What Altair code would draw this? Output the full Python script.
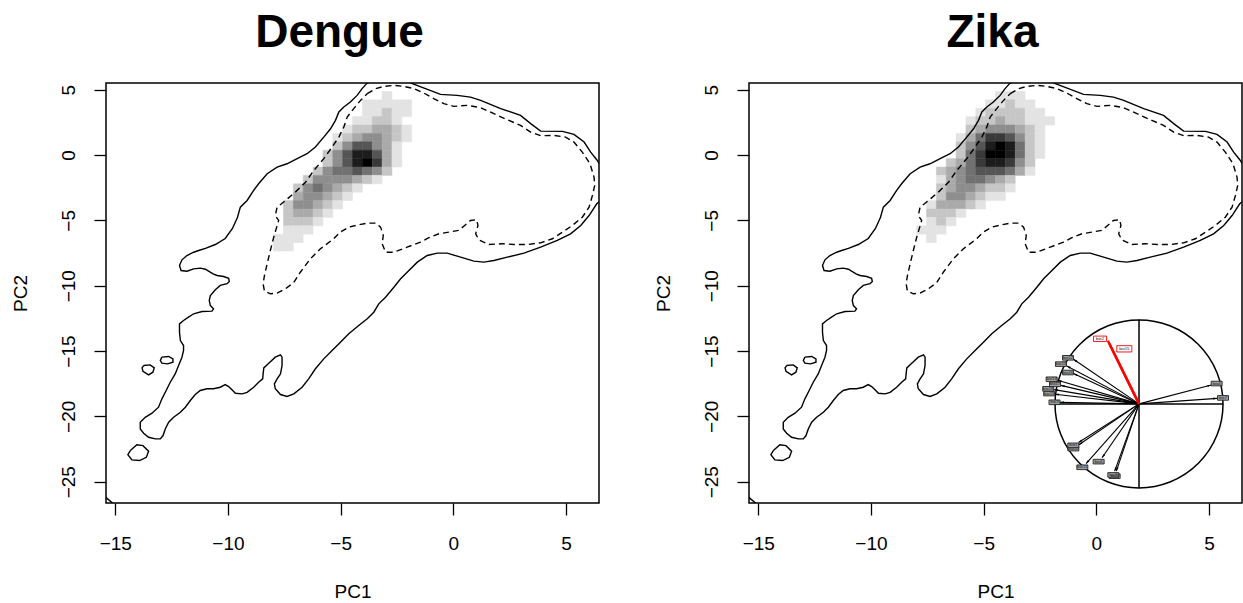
import math
import altair as alt
import pandas as pd

FONT = "Liberation Sans"

# Plot extents and axis ticks (PCA space)
X_DOMAIN = [-15.41, 6.46]
Y_DOMAIN = [-26.63, 5.51]
X_TICKS = [-15, -10, -5, 0, 5]
Y_TICKS = [5, 0, -5, -10, -15, -20, -25]
PANEL_W = 493
PANEL_H = 420

# Environmental background: outer density contour (solid)
OUTER_RING = [
    (-3.85, 5.46), (-3.23, 6.02), (-2.43, 6.02), (-1.82, 5.46), (-0.57, 4.64), (0.17, 4.56),
    (0.76, 4.43), (1.21, 4.18), (2.10, 3.55), (2.98, 3.03), (3.43, 2.40), (3.87, 1.83),
    (4.84, 1.81), (5.35, 1.58), (5.80, 0.99), (6.09, 0.22), (6.36, -0.36), (6.80, -1.56),
    (6.80, -3.09), (6.36, -3.73), (6.02, -4.63), (5.65, -5.39), (5.20, -6.03), (4.61, -6.54),
    (3.87, -7.05), (3.13, -7.51), (2.39, -7.82), (1.80, -8.07), (1.35, -8.20), (0.91, -8.12),
    (0.32, -7.82), (-0.27, -7.51), (-0.71, -7.51), (-1.16, -7.69), (-1.60, -8.20), (-2.05, -8.97),
    (-2.34, -9.47), (-2.64, -10.12), (-3.01, -10.88), (-3.31, -11.39), (-3.53, -12.03), (-3.82, -12.53),
    (-4.20, -13.05), (-4.64, -13.68), (-5.01, -14.33), (-5.38, -14.96), (-5.75, -15.60), (-6.12, -16.36),
    (-6.42, -17.13), (-6.71, -17.77), (-7.08, -18.28), (-7.38, -18.48), (-7.67, -18.33), (-7.90, -17.89),
    (-7.94, -17.51), (-7.82, -17.13), (-7.67, -16.75), (-7.60, -16.11), (-7.60, -15.47), (-7.67, -15.29),
    (-7.90, -15.47), (-8.19, -15.93), (-8.41, -16.29), (-8.44, -16.75), (-8.46, -17.13), (-8.64, -17.39),
    (-8.86, -17.77), (-9.15, -18.16), (-9.37, -18.28), (-9.67, -18.23), (-9.82, -17.97), (-9.97, -17.72),
    (-10.12, -17.57), (-10.34, -17.77), (-10.64, -17.89), (-10.93, -17.89), (-11.23, -18.02), (-11.45, -18.33),
    (-11.67, -18.79), (-11.89, -19.30), (-12.11, -19.69), (-12.41, -20.07), (-12.63, -20.45), (-12.78, -20.96),
    (-12.88, -21.47), (-13.00, -21.72), (-13.22, -21.72), (-13.52, -21.60), (-13.74, -21.29), (-13.89, -20.96),
    (-13.89, -20.45), (-13.67, -20.07), (-13.37, -19.76), (-13.08, -19.30), (-12.93, -18.66), (-12.74, -18.02),
    (-12.56, -17.39), (-12.34, -16.75), (-12.19, -16.11), (-12.04, -15.47), (-11.97, -14.96), (-11.97, -14.58),
    (-12.11, -14.20), (-12.15, -13.56), (-12.15, -12.92), (-11.97, -12.66), (-11.75, -12.41), (-11.52, -12.15),
    (-11.15, -11.98), (-10.71, -11.95), (-10.64, -11.77), (-10.78, -11.52), (-10.83, -11.13), (-10.78, -10.75),
    (-10.56, -10.31), (-10.34, -9.98), (-10.04, -9.85), (-9.94, -9.68), (-9.97, -9.43), (-10.19, -9.30),
    (-10.48, -9.22), (-10.66, -9.09), (-10.86, -8.89), (-11.00, -8.74), (-11.23, -8.66), (-11.52, -8.71),
    (-11.82, -8.89), (-12.08, -8.84), (-12.15, -8.45), (-12.04, -8.02), (-11.82, -7.69), (-11.52, -7.44),
    (-11.30, -7.31), (-11.00, -7.15), (-10.56, -6.85), (-10.12, -6.39), (-9.80, -5.62), (-9.58, -4.78),
    (-9.45, -3.99), (-9.15, -3.48), (-8.86, -2.71), (-8.64, -2.20), (-8.26, -1.43), (-7.82, -0.93),
    (-7.38, -0.67), (-6.93, -0.28), (-6.49, 0.10), (-6.12, 0.61), (-5.75, 1.37), (-5.45, 2.01),
    (-5.23, 2.65), (-5.08, 3.29), (-4.86, 3.67), (-4.57, 4.05), (-4.27, 4.56), (-4.05, 5.08),
]
ISLAND_A = [(-12.93, -15.47), (-12.63, -15.42), (-12.44, -15.60), (-12.44, -15.86),
            (-12.68, -15.98), (-12.93, -15.93), (-13.00, -15.73)]
ISLAND_B = [(-13.74, -16.11), (-13.45, -16.06), (-13.27, -16.29), (-13.33, -16.62),
            (-13.52, -16.82), (-13.77, -16.55), (-13.81, -16.29)]
ISLAND_C = [(-14.33, -22.62), (-14.04, -22.18), (-13.77, -22.24), (-13.52, -22.67),
            (-13.62, -23.13), (-13.92, -23.38), (-14.26, -23.33), (-14.44, -22.93)]
CORNER_PIECE = [(-15.67, -25.83), (-15.04, -26.75), (-15.67, -26.75)]

# Environmental background: inner density contour (dashed)
INNER_RING = [
    (-3.82, 4.69), (-3.45, 5.08), (-3.09, 5.25), (-2.64, 5.33), (-2.20, 5.25), (-1.75, 5.08),
    (-1.31, 4.74), (-0.87, 4.31), (-0.42, 3.93), (0.02, 3.72), (0.62, 3.80), (1.21, 3.62),
    (1.80, 3.16), (2.39, 2.70), (2.98, 2.27), (3.43, 1.75), (3.87, 1.48), (4.46, 1.50),
    (4.98, 1.37), (5.35, 0.99), (5.72, 0.22), (6.06, -0.67), (6.24, -1.69), (6.27, -2.33),
    (6.17, -3.09), (6.02, -3.99), (5.72, -4.76), (5.28, -5.39), (4.84, -5.90), (4.39, -6.41),
    (3.87, -6.72), (3.28, -6.85), (2.69, -6.85), (2.17, -6.79), (1.58, -6.85), (1.13, -6.49),
    (0.99, -6.03), (1.09, -5.39), (1.03, -4.95), (0.76, -5.01), (0.50, -5.39), (0.24, -5.77),
    (-0.20, -5.90), (-0.64, -6.03), (-1.09, -6.33), (-1.46, -6.67), (-2.05, -7.05), (-2.64, -7.44),
    (-3.01, -7.44), (-3.16, -6.79), (-3.11, -6.16), (-3.23, -5.52), (-3.45, -5.21), (-3.82, -5.21),
    (-4.20, -5.34), (-4.64, -5.52), (-5.01, -5.90), (-5.31, -6.41), (-5.90, -7.18), (-6.34, -7.94),
    (-6.79, -8.97), (-7.08, -9.76), (-7.45, -10.24), (-7.82, -10.57), (-8.12, -10.62), (-8.38, -10.42),
    (-8.44, -9.86), (-8.38, -9.22), (-8.26, -8.32), (-8.12, -7.31), (-7.97, -6.29), (-7.75, -5.01),
    (-7.90, -4.63), (-7.82, -3.99), (-7.45, -3.48), (-7.01, -2.84), (-6.56, -2.08), (-6.19, -1.18),
    (-5.75, -0.28), (-5.38, 0.61), (-5.08, 1.37), (-4.86, 2.14), (-4.71, 2.90), (-4.42, 3.55),
    (-4.12, 4.18),
]

# Occurrence density on a 50 x 50 grid over the plot extent (0 = none, 9 = max).
# Each string covers grid columns 17..31; first string is grid row 48, going down.
GRID_N = 50
GRID_COL0 = 17
GRID_ROW_TOP = 48
DENGUE_ROWS = [
    "000000000001000",
    "000000000111110",
    "000000000112110",
    "000000001122100",
    "000000012233210",
    "000000123443210",
    "000000246643100",
    "000002468863100",
    "000002468973100",
    "000024556542000",
    "000244443210000",
    "002454321000000",
    "003443210000000",
    "024432100000000",
    "023321000000000",
    "022210000000000",
    "011100000000000",
    "111000000000000",
    "110000000000000",
]
ZIKA_ROWS = [
    "000000001110000",
    "000000011211000",
    "000000122221100",
    "000001223221110",
    "000002344432100",
    "000013577642100",
    "000024689852100",
    "000025799852100",
    "000235788742000",
    "002345666531000",
    "001345543200000",
    "002344322100000",
    "002443211000000",
    "013332100000000",
    "022210000000000",
    "012100000000000",
    "111000000000000",
    "010000000000000",
]

# Correlation circle of the climate variables (loadings on PC1/PC2)
VAR_NAMES = ["bio12", "bio13", "bio16", "bio14", "bio17", "bio18", "bio19", "bio3",
             "bio4", "bio7", "bio1", "bio10", "bio6", "bio11", "bio9", "bio5",
             "bio2", "bio15"]
TIP_X = [-0.78, -0.86, -0.78, -0.97, -0.93, -1.01, -1.00, -0.94,
         0.86, 0.93, -0.72, -0.72, -0.44, -0.63, -0.29, -0.27,
         -0.37, -0.35]
TIP_Y = [0.53, 0.45, 0.36, 0.28, 0.22, 0.17, 0.115, 0.018,
         0.225, 0.066, -0.46, -0.49, -0.64, -0.71, -0.80, -0.80,
         0.75, 0.71]
LABEL_X = [-0.845, -0.929, -0.845, -1.04, -1.00, -1.081, -1.069, -1.006,
           0.924, 1.00, -0.782, -0.782, -0.481, -0.675, -0.306, -0.29,
           -0.464, -0.175]
LABEL_Y = [0.548, 0.473, 0.373, 0.293, 0.233, 0.179, 0.123, 0.019,
           0.242, 0.071, -0.493, -0.532, -0.687, -0.754, -0.845, -0.86,
           0.774, 0.655]
HIGHLIGHTED = ["bio2", "bio15"]

# Where the unit correlation circle sits inside the Zika panel
INSET_X_DOMAIN = [-4.643, 1.226]
INSET_Y_DOMAIN = [-1.179, 3.817]


def density_frame(rows):
    cw = (X_DOMAIN[1] - X_DOMAIN[0]) / GRID_N
    ch = (Y_DOMAIN[1] - Y_DOMAIN[0]) / GRID_N
    recs = []
    for i, row in enumerate(rows):
        m = GRID_ROW_TOP - i
        for j, c in enumerate(row):
            v = int(c)
            if v == 0:
                continue
            k = GRID_COL0 + j
            g = round(255 * (1 - v / 9))
            recs.append(dict(x0=X_DOMAIN[0] + k * cw, x1=X_DOMAIN[0] + (k + 1) * cw,
                             y0=Y_DOMAIN[0] + m * ch, y1=Y_DOMAIN[0] + (m + 1) * ch,
                             fill=f"#{g:02x}{g:02x}{g:02x}"))
    return pd.DataFrame(recs)


def ring_frame(pieces):
    recs = []
    for name, pts in pieces:
        closed = list(pts) + [pts[0]]
        for i, (x, y) in enumerate(closed):
            recs.append(dict(piece=name, idx=i, x=x, y=y))
    return pd.DataFrame(recs)


solid_df = ring_frame([("outer", OUTER_RING), ("a", ISLAND_A), ("b", ISLAND_B),
                       ("c", ISLAND_C), ("corner", CORNER_PIECE)])
dashed_df = ring_frame([("inner", INNER_RING)])

xs = alt.Scale(domain=X_DOMAIN, nice=False, zero=False)
ys = alt.Scale(domain=Y_DOMAIN, nice=False, zero=False)
xa = alt.Axis(values=X_TICKS, title="PC1")
ya = alt.Axis(values=Y_TICKS, title="PC2")


def niche_layers(rows):
    dens = alt.Chart(density_frame(rows)).mark_rect(clip=True, strokeWidth=0.5).encode(
        x=alt.X("x0:Q", scale=xs, axis=xa), x2="x1:Q",
        y=alt.Y("y0:Q", scale=ys, axis=ya), y2="y1:Q",
        fill=alt.Fill("fill:N", scale=None),
        stroke=alt.Stroke("fill:N", scale=None),
    )
    solid = alt.Chart(solid_df).mark_line(clip=True, color="black", strokeWidth=1.4).encode(
        x=alt.X("x:Q", scale=xs, axis=xa), y=alt.Y("y:Q", scale=ys, axis=ya),
        detail="piece:N", order="idx:Q",
    )
    dashed = alt.Chart(dashed_df).mark_line(clip=True, color="black", strokeWidth=1.4,
                                            strokeDash=[6, 4]).encode(
        x=alt.X("x:Q", scale=xs, axis=xa), y=alt.Y("y:Q", scale=ys, axis=ya),
        detail="piece:N", order="idx:Q",
    )
    return alt.layer(dens, solid, dashed)


def title(text, dx):
    return alt.TitleParams(text=text, font=FONT, fontSize=46, fontWeight="bold",
                           color="black", anchor="middle", dx=dx, offset=-9.5,
                           baseline="alphabetic")


# ---- correlation circle ----
ixs = alt.Scale(domain=INSET_X_DOMAIN, nice=False, zero=False)
iys = alt.Scale(domain=INSET_Y_DOMAIN, nice=False, zero=False)

load_df = pd.DataFrame({"name": VAR_NAMES, "tx": TIP_X, "ty": TIP_Y,
                        "lx": LABEL_X, "ly": LABEL_Y})
load_df["ox"] = 0.0
load_df["oy"] = 0.0
load_df["hi"] = load_df["name"].isin(HIGHLIGHTED)
load_df["col"] = load_df["hi"].map({True: "red", False: "black"})
load_df["sw"] = load_df["hi"].map({True: 2.4, False: 1.1})
load_df["ang"] = [(math.degrees(math.atan2(x, y)) + 360) % 360 for x, y in zip(TIP_X, TIP_Y)]
load_df["box_fill"] = load_df["hi"].map({True: "white", False: "#a0a0a0"})
load_df["box_stroke"] = load_df["hi"].map({True: "red", False: "#222222"})
load_df["box_size"] = [225 if n == "bio15" else (169 if n == "bio2" else 121) for n in VAR_NAMES]
load_df = load_df.sort_values("hi")

circle = alt.Chart(pd.DataFrame({"cx": [0.0], "cy": [0.0]})).mark_point(
    shape="circle", size=28224, filled=False, color="black", strokeWidth=1.5, opacity=1
).encode(x=alt.X("cx:Q", scale=ixs, axis=None), y=alt.Y("cy:Q", scale=iys, axis=None))

cross = alt.Chart(pd.DataFrame({"x": [0.0, -1.0], "y": [-1.0, 0.0],
                                "x2": [0.0, 1.0], "y2": [1.0, 0.0]})).mark_rule(
    color="black", strokeWidth=1.5
).encode(x=alt.X("x:Q", scale=ixs, axis=None), y=alt.Y("y:Q", scale=iys, axis=None),
         x2="x2:Q", y2="y2:Q")

shafts = alt.Chart(load_df).mark_rule().encode(
    x=alt.X("ox:Q", scale=ixs, axis=None), y=alt.Y("oy:Q", scale=iys, axis=None),
    x2="tx:Q", y2="ty:Q",
    color=alt.Color("col:N", scale=None),
    strokeWidth=alt.StrokeWidth("sw:Q", scale=None),
)

heads = alt.Chart(load_df).mark_point(
    shape="M0,0L0.4,1.4L-0.4,1.4Z", filled=True, size=30, opacity=1
).encode(
    x=alt.X("tx:Q", scale=ixs, axis=None), y=alt.Y("ty:Q", scale=iys, axis=None),
    angle=alt.Angle("ang:Q", scale=None),
    color=alt.Color("col:N", scale=None),
)

boxes = alt.Chart(load_df).mark_point(
    shape="M-1,-0.42L1,-0.42L1,0.42L-1,0.42Z", filled=True, opacity=1, strokeWidth=0.9
).encode(
    x=alt.X("lx:Q", scale=ixs, axis=None), y=alt.Y("ly:Q", scale=iys, axis=None),
    fill=alt.Fill("box_fill:N", scale=None),
    stroke=alt.Stroke("box_stroke:N", scale=None),
    size=alt.Size("box_size:Q", scale=None),
)

labels = alt.Chart(load_df).mark_text(font=FONT, fontSize=4.2, color="#1a1a1a").encode(
    x=alt.X("lx:Q", scale=ixs, axis=None), y=alt.Y("ly:Q", scale=iys, axis=None),
    text="name:N",
)

inset = alt.layer(circle, cross, shafts, heads, boxes, labels)

left = niche_layers(DENGUE_ROWS).properties(width=PANEL_W, height=PANEL_H,
                                            title=title("Dengue", -13))
right = alt.layer(niche_layers(ZIKA_ROWS), inset).resolve_scale(
    x="independent", y="independent"
).properties(width=PANEL_W, height=PANEL_H, title=title("Zika", -3))

chart = alt.hconcat(left, right, spacing=150, bounds="flush").resolve_scale(
    x="independent", y="independent"
).properties(
    padding={"left": 10, "top": 8, "right": 0, "bottom": 0},
    background="white",
).configure_view(
    stroke="black", strokeWidth=1.5
).configure_axis(
    grid=False, domain=False, tickColor="black", tickWidth=1.3, tickSize=12,
    labelFont=FONT, labelFontSize=19, labelColor="black", labelFlush=False,
    labelOverlap=False, titleFont=FONT, titleFontSize=19, titleFontWeight="normal",
    titleColor="black",
).configure_axisX(
    labelBaseline="middle", labelPadding=28, titleX=246.5, titleY=88,
    titleBaseline="middle", titleAlign="center", titleAngle=0,
).configure_axisY(
    labelAngle=270, labelAlign="center", labelBaseline="middle", labelPadding=26,
    titleX=-85.7, titleY=210, titleAngle=270, titleBaseline="middle", titleAlign="center",
)

chart.save("out.html", embed_options={"renderer": "svg", "actions": False})
